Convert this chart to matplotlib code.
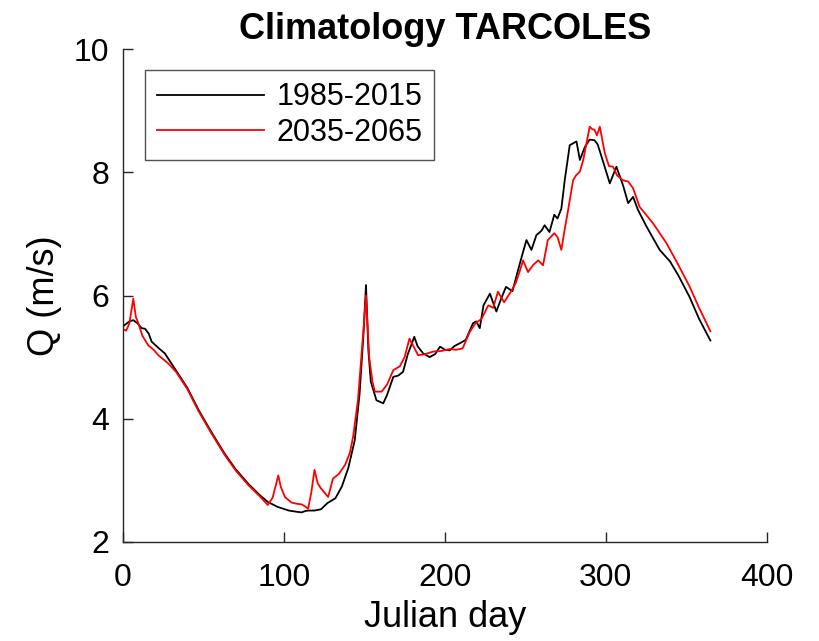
import numpy as np
import matplotlib
matplotlib.use("Agg")
import matplotlib.pyplot as plt

plt.rcParams['font.family'] = ['Liberation Sans', 'DejaVu Sans']

# serie historica 1985-2015
dias_h = [0, 1, 4, 6.4, 9, 11.6, 13.7, 16, 17.8, 22, 26, 32, 40, 47, 55, 63, 70, 78, 85, 90,
          96, 103, 108, 111, 113, 115, 119, 123, 127, 132, 136, 140, 144, 147, 149.5, 151,
          152.5, 154, 157.5, 161.7, 164, 168, 171, 174, 177, 179.5, 181, 183, 186.5, 190.6,
          194, 197, 200, 203, 206, 209, 213, 217.5, 219.5, 221.7, 224, 228, 232, 235, 238,
          242, 246.6, 250.7, 253.8, 256.9, 260, 262, 265, 268, 270, 272.4, 274.5, 277.6,
          281.8, 283.9, 287, 290, 293, 295, 298, 302.5, 306.6, 308.5, 310.7, 313.9, 317,
          320, 325.3, 333.5, 340, 345, 352, 358, 365]
q_h = [5.50, 5.52, 5.58, 5.60, 5.55, 5.47, 5.46, 5.38, 5.25, 5.15, 5.06, 4.82, 4.50, 4.14,
       3.78, 3.44, 3.18, 2.94, 2.76, 2.65, 2.57, 2.51, 2.49, 2.48, 2.50, 2.51, 2.51, 2.53,
       2.63, 2.71, 2.90, 3.20, 3.65, 4.40, 5.40, 6.17, 5.10, 4.60, 4.30, 4.25, 4.38, 4.68,
       4.70, 4.76, 5.05, 5.22, 5.33, 5.18, 5.06, 5.00, 5.05, 5.17, 5.12, 5.11, 5.18, 5.22,
       5.28, 5.55, 5.58, 5.47, 5.84, 6.03, 5.74, 5.95, 6.14, 6.07, 6.52, 6.90, 6.74, 6.98,
       7.05, 7.14, 7.03, 7.31, 7.25, 7.41, 7.87, 8.44, 8.50, 8.20, 8.41, 8.53, 8.52, 8.45,
       8.20, 7.82, 8.09, 7.95, 7.79, 7.50, 7.60, 7.39, 7.12, 6.74, 6.55, 6.33, 5.98, 5.62,
       5.27]

# serie futura 2035-2065
dias_f = [0, 2, 4, 6.4, 8, 9.5, 12, 15.7, 19, 22, 28, 33, 40, 47, 55, 63, 70, 78, 85, 90,
          93, 96.5, 98, 100.6, 104.7, 108, 111, 113, 115, 117, 119, 121, 123, 127.5, 130.5,
          134, 138, 141, 143, 146, 149, 151, 153, 155, 156.5, 160.7, 164, 168, 172, 175, 178,
          180, 183.4, 188, 192.7, 198, 203, 207, 211, 215.5, 219, 222.8, 227, 230, 233, 236.8,
          241, 244, 246.6, 248.6, 251.7, 255, 258, 261, 264, 268, 270, 272.4, 274, 276.6,
          279.7, 281.5, 283.9, 286, 288, 290, 291.5, 293, 294.5, 296.3, 299.4, 302, 304.5,
          307, 310.7, 313.9, 317, 321, 329.4, 337.7, 345, 352, 358, 365]
q_f = [5.45, 5.43, 5.55, 5.95, 5.65, 5.55, 5.35, 5.19, 5.12, 5.03, 4.90, 4.76, 4.48, 4.12,
       3.76, 3.42, 3.16, 2.92, 2.74, 2.60, 2.72, 3.08, 2.90, 2.73, 2.64, 2.62, 2.61, 2.58,
       2.54, 2.80, 3.17, 2.95, 2.87, 2.73, 3.03, 3.10, 3.25, 3.45, 3.71, 4.30, 5.30, 6.00,
       5.00, 4.60, 4.44, 4.44, 4.55, 4.79, 4.85, 5.00, 5.30, 5.20, 5.03, 5.05, 5.09, 5.10,
       5.13, 5.12, 5.14, 5.41, 5.55, 5.62, 5.84, 5.80, 6.06, 5.89, 6.06, 6.20, 6.40, 6.57,
       6.38, 6.50, 6.57, 6.49, 6.90, 7.01, 6.95, 6.74, 7.00, 7.39, 7.87, 7.95, 8.01, 8.20,
       8.47, 8.74, 8.70, 8.69, 8.60, 8.74, 8.31, 8.10, 8.09, 7.95, 7.87, 7.85, 7.74, 7.44,
       7.17, 6.85, 6.50, 6.15, 5.80, 5.42]

etiquetas = ['1985-2015', '2035-2065']

fig = plt.figure(figsize=(8.2, 6.41), dpi=100)
ax = fig.add_axes([0.150, 0.1545, 0.785, 0.769])

ax.plot(dias_h, q_h, color='black', lw=1.3, label=etiquetas[0])
ax.plot(dias_f, q_f, color='red', lw=1.3, label=etiquetas[1])

ax.set_xlim(0, 400)
ax.set_ylim(2, 10)
ax.set_xticks([0, 100, 200, 300, 400])
ax.set_yticks([2, 4, 6, 8, 10])

for lado in ['top', 'right']:
    ax.spines[lado].set_visible(False)
for lado in ['left', 'bottom']:
    ax.spines[lado].set_color('#262626')
    ax.spines[lado].set_linewidth(1.0)
ax.tick_params(direction='in', length=7, width=1.0, colors='#262626', labelsize=23,
               labelcolor='black')
ax.tick_params(axis='x', pad=15)
ax.tick_params(axis='y', pad=10)

ax.set_xlabel('Julian day', fontsize=26, labelpad=5)
ax.set_ylabel('Q (m/s)', fontsize=26, labelpad=8)
ax.set_title('Climatology TARCOLES', fontsize=26, fontweight='bold', pad=7)

leg = ax.legend(loc='upper left', bbox_to_anchor=(0.034, 0.957), borderaxespad=0,
                fontsize=22, frameon=True, fancybox=False, edgecolor='#262626',
                handlelength=3.5, handletextpad=0.4, borderpad=0.4, labelspacing=0.18)
leg.get_frame().set_linewidth(1.0)

fig.savefig('out.png', dpi=100)
